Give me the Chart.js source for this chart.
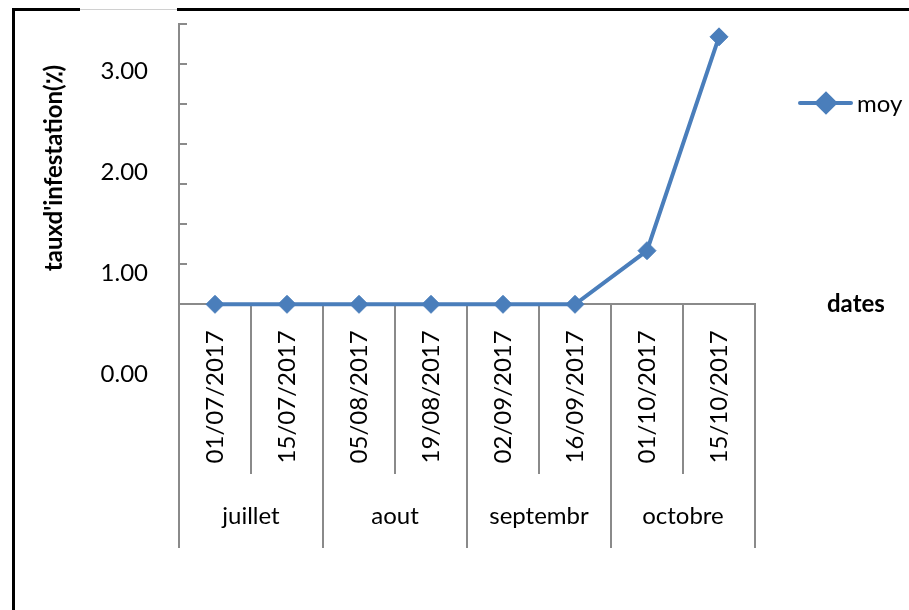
<!DOCTYPE html>
<html lang="fr">
<head>
<meta charset="utf-8">
<title>taux d'infestation</title>
<script src="https://cdn.jsdelivr.net/npm/chart.js@4.4.1/dist/chart.umd.min.js"></script>
<style>
  html, body { margin: 0; padding: 0; background: #fff; }
  #wrap { position: relative; width: 909px; height: 610px; }
</style>
</head>
<body>
<div id="wrap"><canvas id="chart"></canvas></div>
<script>
const dates = ['01/07/2017', '15/07/2017', '05/08/2017', '19/08/2017', '02/09/2017', '16/09/2017', '01/10/2017', '15/10/2017'];
const mois = ['juillet', 'aout', 'septembr', 'octobre'];
const moy = [0, 0, 0, 0, 0, 0, 0.67, 3.34];
const graduations = [0, 0.5, 1, 1.5, 2, 2.5, 3, 3.5]; // petits traits de l'axe
const etiquettesY = [0, 1, 2, 3];                     // textes 0.00 ... 3.00

const BLEU = '#4a7ebb';
const GRIS = '#8a8a8a';
const POLICE = 'Lato, "Open Sans", sans-serif';

// cadre, titres et légende dessinés par-dessus le graphique
const decor = {
    id: 'decor',
    afterDraw(chart) {
        const { ctx, scales } = chart;
        const axeY = scales.y.getPixelForValue(0);

        ctx.save();
        ctx.fillStyle = '#000';
        ctx.fillRect(12, 8, 3, 602);
        ctx.fillRect(12, 8, 68, 3);
        ctx.fillRect(177, 8, 732, 3);
        ctx.fillStyle = '#d0d0d0';
        ctx.fillRect(80, 9, 97, 1);

        // titre vertical
        ctx.fillStyle = '#000';
        ctx.font = `bold 24px ${POLICE}`;
        ctx.textAlign = 'center';
        ctx.textBaseline = 'middle';
        ctx.translate(54, 168);
        ctx.rotate(-Math.PI / 2);
        ctx.fillText("tauxd'infestation(٪)", 0, 0);
        ctx.restore();

        ctx.save();
        ctx.fillStyle = '#000';
        ctx.font = `bold 24px ${POLICE}`;
        ctx.textAlign = 'left';
        ctx.textBaseline = 'middle';
        ctx.fillText('dates', 827, axeY);

        // légende
        const ds = chart.data.datasets[0];
        ctx.strokeStyle = ds.borderColor;
        ctx.lineWidth = ds.borderWidth;
        ctx.lineCap = 'round';
        ctx.beginPath();
        ctx.moveTo(800, 103);
        ctx.lineTo(851, 103);
        ctx.stroke();
        ctx.fillStyle = ds.pointBackgroundColor;
        Chart.helpers.drawPoint(ctx, { pointStyle: 'rectRot', radius: ds.pointRadius, borderWidth: 1 }, 826, 103);
        ctx.fillStyle = '#000';
        ctx.font = `24px ${POLICE}`;
        ctx.fillText(ds.label, 857, 104);
        ctx.restore();
    }
};

const ctx = document.getElementById('chart');

new Chart(ctx, {
    type: 'line',
    data: {
        labels: dates,
        datasets: [{
            label: 'moy',
            data: moy,
            xAxisID: 'x',
            yAxisID: 'y',
            borderColor: BLEU,
            backgroundColor: BLEU,
            borderWidth: 4,
            tension: 0,
            pointStyle: 'rectRot',
            pointRadius: 9,
            pointBorderWidth: 1,
            pointBackgroundColor: BLEU,
            pointBorderColor: BLEU,
            clip: false
        }]
    },
    options: {
        responsive: true,
        maintainAspectRatio: false,
        animation: false,
        layout: { padding: { top: 24, right: 154, bottom: 63, left: 0 } },
        plugins: {
            legend: { display: false },
            tooltip: { enabled: false }
        },
        scales: {
            x: {
                type: 'category',
                position: { y: 0 },
                offset: true,
                grid: { offset: true, drawOnChartArea: false, tickLength: 169, color: GRIS, lineWidth: 2 },
                border: { color: GRIS, width: 2 },
                ticks: {
                    autoSkip: false, minRotation: 90, maxRotation: 90, padding: -143,
                    color: '#000', font: { family: POLICE, size: 24 }
                }
            },
            x2: {
                type: 'category',
                labels: mois,
                position: { y: 0 },
                offset: true,
                grid: { offset: true, drawOnChartArea: false, tickLength: 243, color: GRIS, lineWidth: 2 },
                border: { color: GRIS, width: 2 },
                ticks: {
                    autoSkip: false, minRotation: 0, maxRotation: 0, padding: -45,
                    color: '#000', font: { family: POLICE, size: 24 }
                }
            },
            y: {
                type: 'linear',
                position: 'left',
                weight: 0,
                min: -3.03,
                max: 3.5,
                afterBuildTicks: s => { s.ticks = graduations.map(v => ({ value: v })); },
                afterFit: s => { s.width = 0; },
                ticks: { display: false, padding: 0 },
                grid: { drawOnChartArea: false, tickLength: -8, color: GRIS, lineWidth: 2 },
                border: { color: GRIS, width: 2 }
            },
            y2: {
                type: 'linear',
                position: 'left',
                weight: 1,
                min: -1.713,
                max: 3.465,
                afterBuildTicks: s => { s.ticks = etiquettesY.map(v => ({ value: v })); },
                afterFit: s => { s.width = 179; },
                ticks: {
                    padding: 0,
                    color: '#000',
                    font: { family: POLICE, size: 24 },
                    callback: v => v.toFixed(2)
                },
                // traits invisibles : ils servent seulement d'écart entre texte et axe
                grid: { drawOnChartArea: false, drawTicks: true, tickLength: 31, color: 'rgba(0,0,0,0)' },
                border: { display: false }
            }
        }
    },
    plugins: [decor]
});
</script>
</body>
</html>
